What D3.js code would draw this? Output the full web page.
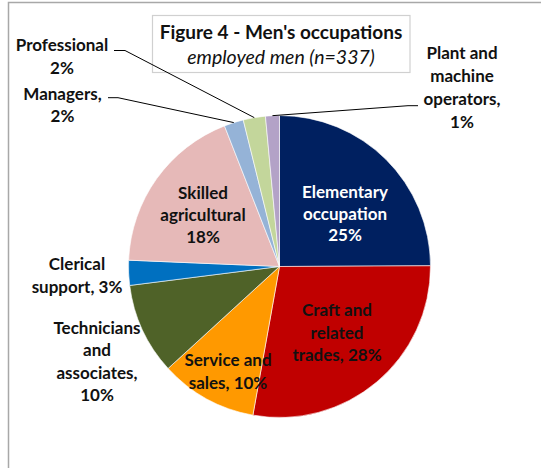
<!DOCTYPE html>
<html><head><meta charset="utf-8">
<script src="https://cdn.jsdelivr.net/npm/d3@7"></script>
<style>html,body{margin:0;padding:0;background:#fff;}svg{display:block;}</style>
</head><body>
<svg id="chart" width="541" height="468"></svg>
<script>
// ---- data ----
const categories = ["Elementary occupation","Craft and related trades","Service and sales","Technicians and associates","Clerical support","Skilled agricultural","Managers","Professional","Plant and machine operators"];
const counts = [84, 94, 35, 33, 9, 62, 7, 8, 5]; // employed men, n=337
const colors = ["#002060","#C00000","#FF9900","#4F6228","#0070C0","#E6B9B8","#95B3D7","#C3D69B","#B3A2C7"];
const titleText = "Figure 4 - Men's occupations";
const subtitleText = "employed men (n=337)";

// label text lines ({p} = percentage)
const labelLines = [
  ["Elementary","occupation","{p}%"],
  ["Craft and","related","trades, {p}%"],
  ["Service and","sales, {p}%"],
  ["Technicians","and","associates,","{p}%"],
  ["Clerical","support, {p}%"],
  ["Skilled","agricultural","{p}%"],
  ["Managers,","{p}%"],
  ["Professional","{p}%"],
  ["Plant and","machine","operators,","{p}%"]
];

// ---- layout ----
const cx = 279.5, cy = 266.5, R = 151;
const labelLayout = [
  {x:345, y:198, lh:21.5, fill:"#fff"},
  {x:337, y:316, lh:22.5},
  {x:228, y:366, lh:22.5},
  {x:97,  y:334, lh:22.3},
  {x:77,  y:270, lh:22.5},
  {x:203, y:199, lh:22},
  {x:62.5,y:100, lh:21.5, leader:[[108,97.7],[118,97.7]]},
  {x:62,  y:51,  lh:23, leader:[[114,50.5],[125,50.5]]},
  {x:462, y:59,  lh:23, leader:[[418,105.7],[408,105.7]]}
];

const svg = d3.select("#chart");
const total = d3.sum(counts);
const font = "Lato, 'Open Sans', sans-serif";

// frame
svg.append("rect").attr("x",8.5).attr("y",2.5).attr("width",700).attr("height",700)
  .attr("fill","none").attr("stroke","#a8a8a8").attr("stroke-width",1.5);

// title box
svg.append("rect").attr("x",152.5).attr("y",15.5).attr("width",257.5).attr("height",57)
  .attr("fill","#fff").attr("stroke","#d0d0d0").attr("stroke-width",1.2);
svg.append("text").attr("x",281).attr("y",39).attr("text-anchor","middle")
  .attr("font-family",font).attr("font-weight","bold").attr("font-size",19).attr("fill","#111")
  .text(titleText);
svg.append("text").attr("x",281).attr("y",64).attr("text-anchor","middle")
  .attr("font-family",font).attr("font-style","italic").attr("font-size",19.5).attr("fill","#111")
  .text(subtitleText);

const pie = d3.pie().sort(null).value(d=>d).startAngle(0).endAngle(2*Math.PI);
const arcs = pie(counts);
const arc = d3.arc().innerRadius(0).outerRadius(R);
const edgeArc = d3.arc().innerRadius(R).outerRadius(R);

const g = svg.append("g").attr("transform",`translate(${cx},${cy})`);
g.selectAll("path").data(arcs).enter().append("path")
  .attr("d",arc).attr("fill",(d,i)=>colors[i])
  .attr("stroke","#ffffff").attr("stroke-width",0.6);

// leader lines
arcs.forEach((a,i)=>{
  const L = labelLayout[i];
  if(!L.leader) return;
  const e = edgeArc.centroid(a);
  const pts = [L.leader[0], L.leader[1], [cx+e[0], cy+e[1]]];
  svg.append("path").attr("d", d3.line()(pts)).attr("fill","none")
    .attr("stroke","#000").attr("stroke-width",1);
});

// labels
arcs.forEach((a,i)=>{
  const L = labelLayout[i];
  const pct = Math.round(counts[i]/total*100);
  const t = svg.append("text").attr("text-anchor","middle")
    .attr("font-family",font).attr("font-weight","bold").attr("font-size",17)
    .attr("fill",L.fill||"#111");
  labelLines[i].forEach((ln,k)=>{
    t.append("tspan").attr("x",L.x).attr("y",L.y + k*L.lh).text(ln.replace("{p}",pct));
  });
});
</script>
</body></html>
